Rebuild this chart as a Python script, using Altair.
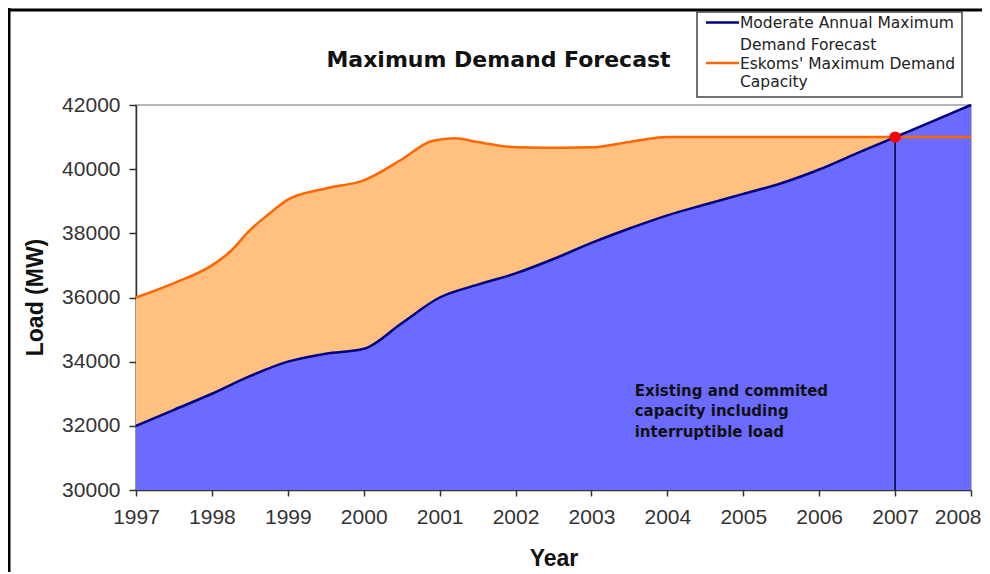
import altair as alt
import pandas as pd

# ---- data ----
years_demand = [1997, 1997.5, 1998, 1998.5, 1999, 1999.5, 2000, 2000.5, 2001, 2001.5,
                2002, 2002.5, 2003, 2003.5, 2004, 2004.5, 2005, 2005.5, 2006, 2006.5,
                2007, 2007.5, 2008]
demand_mw = [32000, 32500, 33000, 33550, 34000, 34250, 34400, 35200, 36000, 36400,
             36750, 37200, 37700, 38150, 38560, 38900, 39230, 39560, 39990, 40500,
             41000, 41500, 42000]

years_capacity = [1997, 1997.5, 1998, 1998.25, 1998.5, 1998.75, 1999, 1999.5, 2000, 2000.5,
                  2000.9, 2001.2, 2001.5, 2002, 2002.5, 2003, 2003.5, 2004, 2005, 2006,
                  2007, 2008]
capacity_mw = [36000, 36450, 37000, 37450, 38100, 38600, 39050, 39400, 39650, 40300,
               40880, 40960, 40850, 40680, 40670, 40680, 40850, 41000, 41000, 41000,
               41000, 41000]

crossing_year = [2007]
crossing_mw = [41000]

x_ticks = list(range(1997, 2009))
y_ticks = list(range(30000, 42001, 2000))

title_text = "Maximum Demand Forecast"
legend_demand = ["Moderate Annual Maximum", "Demand Forecast"]
legend_capacity = ["Eskoms' Maximum Demand", "Capacity"]
annotation_lines = ["Existing and commited", "capacity including", "interruptible load"]
x_title = "Year"
y_title = "Load (MW)"

demand_df = pd.DataFrame({"year": years_demand, "value": demand_mw})
cap_df = pd.DataFrame({"year": years_capacity, "value": capacity_mw})
cross_df = pd.DataFrame({"year": crossing_year, "value": crossing_mw})
one = pd.DataFrame({"k": [0]})

SANS = "Liberation Sans, Arial, sans-serif"
DEJA = "DejaVu Sans, Verdana, sans-serif"

last_tick = "datum.value === 2008"

x_enc = alt.X(
    "year:Q",
    scale=alt.Scale(domain=[1997, 2008], nice=False, zero=False),
    axis=alt.Axis(
        values=x_ticks, format="d", title=x_title, grid=False,
        labelFont=SANS, labelFontSize=21, labelColor="#333", labelPadding=10,
        labelFlush=False, labelOverlap=False,
        labelAlign={"condition": {"test": last_tick, "value": "right"}, "value": "center"},
        labelOffset={"condition": {"test": last_tick, "value": 10}, "value": 0},
        tickSize=6, tickColor="#333", tickWidth=1.5,
        domainColor="#333", domainWidth=1.5,
        titleFont=SANS, titleFontSize=23, titleFontWeight="bold", titleColor="#111",
        titleBaseline="alphabetic", titleY=75,
    ),
)
y_enc = alt.Y(
    "value:Q",
    scale=alt.Scale(domain=[30000, 42000], nice=False, zero=False),
    axis=alt.Axis(
        values=y_ticks, format="d", title=y_title, grid=False,
        labelFont=SANS, labelFontSize=21, labelColor="#333", labelPadding=9,
        labelFlush=False, labelOverlap=False,
        tickSize=7, tickColor="#333", tickWidth=1.5,
        domainColor="#333", domainWidth=1.5,
        titleFont=SANS, titleFontSize=23, titleFontWeight="bold", titleColor="#111",
        titleX=-89, titleY=192, titleAlign="center", titleBaseline="bottom",
    ),
)

orange_area = alt.Chart(cap_df).mark_area(
    color="#FFC080", interpolate="monotone", clip=True
).encode(x=x_enc, y=y_enc, y2=alt.datum(30000))

blue_area = alt.Chart(demand_df).mark_area(
    color="#6B6BFF", interpolate="monotone", clip=True
).encode(x=x_enc, y=y_enc, y2=alt.datum(30000))

vline = alt.Chart(cross_df).mark_rule(color="#000033", strokeWidth=1.5).encode(
    x=x_enc, y=y_enc, y2=alt.datum(30000)
)

orange_line = alt.Chart(cap_df).mark_line(
    color="#FF6600", strokeWidth=2.5, interpolate="monotone"
).encode(x=x_enc, y=y_enc)

blue_line = alt.Chart(demand_df).mark_line(
    color="#000080", strokeWidth=2.5, interpolate="monotone"
).encode(x=x_enc, y=y_enc)

dot = alt.Chart(cross_df).mark_circle(color="#FF0000", size=130, opacity=1).encode(
    x=x_enc, y=y_enc
)

annotation = alt.Chart(one).mark_text(
    text=annotation_lines, align="left", baseline="alphabetic", font=DEJA,
    fontWeight="bold", fontSize=15, lineHeight=20.5, color="#111"
).encode(x=alt.datum(2003.57), y=alt.datum(32930))

title = alt.Chart(one).mark_text(
    text=title_text, align="center", baseline="alphabetic", font=DEJA,
    fontWeight="bold", fontSize=22, color="#111"
).encode(x=alt.value(362.5), y=alt.value(-38))

# outer frame (cropped screenshot border)
frame_top = alt.Chart(one).mark_rule(color="#000", strokeWidth=3).encode(
    x=alt.value(-128), x2=alt.value(870), y=alt.value(-95)
)
frame_left = alt.Chart(one).mark_rule(color="#000", strokeWidth=3).encode(
    x=alt.value(-127), y=alt.value(-97), y2=alt.value(480)
)

# legend box
legend_box = alt.Chart(one).mark_rect(fill="white", stroke="#444", strokeWidth=1.5).encode(
    x=alt.value(561), x2=alt.value(826), y=alt.value(-93), y2=alt.value(-8)
)
legend_sym1 = alt.Chart(one).mark_rule(color="#000080", strokeWidth=2.5).encode(
    x=alt.value(570), x2=alt.value(603), y=alt.value(-82.5)
)
legend_sym2 = alt.Chart(one).mark_rule(color="#FF6600", strokeWidth=2.5).encode(
    x=alt.value(570), x2=alt.value(603), y=alt.value(-42)
)
legend_txt1 = alt.Chart(one).mark_text(
    text=legend_demand, align="left", baseline="alphabetic", font=DEJA,
    fontSize=15.5, lineHeight=22, color="#222"
).encode(x=alt.value(604), y=alt.value(-77))
legend_txt2 = alt.Chart(one).mark_text(
    text=legend_capacity, align="left", baseline="alphabetic", font=DEJA,
    fontSize=15.5, lineHeight=18, color="#222"
).encode(x=alt.value(604), y=alt.value(-36))

chart = alt.layer(
    orange_area, blue_area, vline, orange_line, blue_line, dot, annotation,
    title, frame_top, frame_left, legend_box, legend_sym1, legend_sym2,
    legend_txt1, legend_txt2,
).properties(
    width=835, height=385,
    padding={"left": 128, "top": 97, "right": 11, "bottom": 82},
    autosize=alt.AutoSizeParams(type="none"),
    background="white",
).configure_view(stroke="#A0A0A0", strokeWidth=1.5)

chart.save("out.html", embed_options={"renderer": "svg", "actions": False})
